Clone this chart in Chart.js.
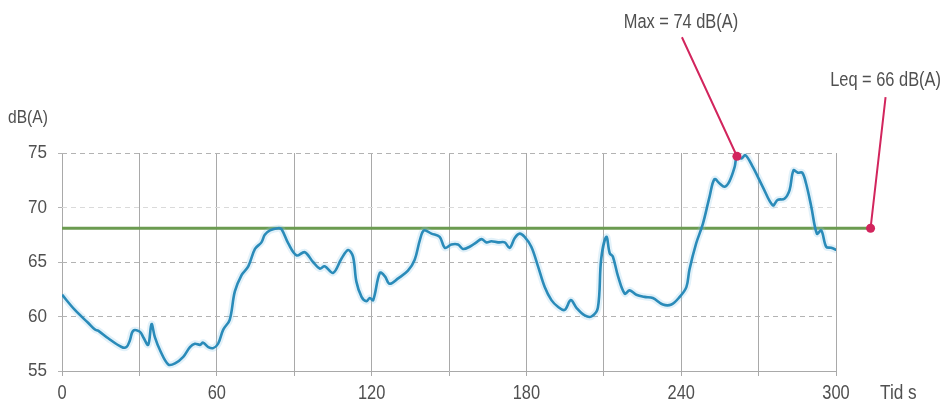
<!DOCTYPE html>
<html>
<head>
<meta charset="utf-8">
<script src="https://cdn.jsdelivr.net/npm/chart.js@4/dist/chart.umd.min.js"></script>
<style>
  html, body { margin: 0; padding: 0; background: #fff; }
  #wrap { width: 946px; height: 406px; position: relative; }
</style>
</head>
<body>
<div id="wrap"><canvas id="chart"></canvas></div>
<script>
// time in seconds, level in dB(A)
const times = [
  0, 5, 10.2, 12.8, 14, 17.9, 23.1, 25, 26.3, 27.6, 30.2, 31.5, 33.4, 34.7, 36, 38,
  41.2, 43.8, 47, 49.6, 51.5, 53.5, 54.7, 56.7, 58.6, 60.5, 62.5, 65, 67, 69.6, 72.2,
  74.8, 77.3, 78.6, 80.6, 83.8, 85.1, 87.7, 90.9, 94.1, 97.3, 99.9, 101.8, 105.1, 108.3,
  110.9, 112.8, 114.1, 116.1, 118, 119.3, 120.6, 123.2, 125.1, 127, 130.3, 134.1, 136.7,
  138.7, 140.3, 143.2, 146.4, 148.4, 150.9, 153.5, 155.4, 158, 160.6, 162.6, 164.5, 166.4,
  169, 171.6, 173.5, 175.5, 177.4, 179.3, 181.9, 184.5, 187.1, 189.7, 192.2, 194.8, 197.2,
  199.4, 202.6, 205.2, 207.7, 209, 211, 212.3, 213.5, 215.5, 218.1, 220, 222.6, 225.8,
  229, 232.9, 236.2, 239.4, 242, 243.2, 245.8, 248.4, 251, 252.9, 254.9, 256.8, 258.7,
  260.7, 261.6, 263.3, 264.9, 267.8, 271.6, 275.5, 277.4, 280, 282, 283.5, 285.2, 286.9,
  288.4, 290.4, 292.6, 294.3, 296.2, 298.1, 300.3
]
const levels = [
  62.0, 60.6, 59.4, 58.8, 58.7, 58.0, 57.2, 57.2, 57.8, 58.7, 58.6, 58.1, 57.4, 59.3, 58.1, 56.9,
  55.6, 55.7, 56.3, 57.2, 57.5, 57.4, 57.6, 57.2, 57.1, 57.5, 58.8, 59.7, 62.3, 63.8, 64.6,
  66.2, 66.8, 67.5, 67.9, 68.1, 68.0, 66.7, 65.6, 65.9, 65.0, 64.4, 64.6, 64.0, 65.3,
  66.1, 65.5, 63.2, 61.8, 61.4, 61.7, 61.5, 64.0, 63.7, 63.0, 63.5, 64.2, 65.2,
  67.0, 67.9, 67.6, 67.3, 66.3, 66.6, 66.6, 66.2, 66.4, 66.8, 67.1, 66.8, 66.9,
  66.8, 66.8, 66.3, 67.2, 67.6, 67.3, 66.4, 64.6, 62.7, 61.5, 60.9, 60.6, 61.5,
  60.8, 60.1, 60.0, 60.8, 65.3, 67.3, 65.8, 65.5, 63.7, 62.1, 62.4, 62.0, 61.8,
  61.7, 61.1, 61.1, 61.8, 62.7, 64.3, 66.7, 68.5, 71.0, 72.6, 72.2, 71.9, 72.4,
  73.7, 74.7, 74.5, 74.8, 73.7, 71.9, 70.2, 70.7, 70.8, 71.6, 73.4, 73.2, 73.2,
  72.2, 70.1, 67.6, 67.9, 66.4, 66.3, 66.1
]
const yTicks = [55, 60, 65, 70, 75]
const xLabels = [0, 60, 120, 180, 240, 300]
const leqLevel = 68.1
const leqEnd = 313.4
const maxMark = { x: 261.6, y: 74.7 }
const maxText = 'Max = 74 dB(A)'
const leqText = 'Leq = 66 dB(A)'
const yUnit = 'dB(A)'
const xUnit = 'Tid s'

const textFont = "'Liberation Sans', Arial, sans-serif"
const textColor = '#505050'
const pink = '#d2255d'

const points = times.map((t, i) => ({ x: t, y: levels[i] }))

// the reference uses a condensed face, so squeeze the text a little
function narrowText (ctx, text, x, y, size, align, squeeze = 0.82) {
  ctx.save()
  ctx.translate(x, y)
  ctx.scale(squeeze, 1)
  ctx.font = size + 'px ' + textFont
  ctx.textAlign = align
  ctx.textBaseline = 'middle'
  ctx.fillText(text, 0, 0)
  ctx.restore()
}

const extras = {
  id: 'extras',
  beforeDatasetsDraw (chart) {
    const { ctx, scales: { x, y } } = chart
    ctx.save()
    ctx.strokeStyle = '#6b9b50'
    ctx.lineWidth = 3
    ctx.beginPath()
    ctx.moveTo(x.getPixelForValue(0), y.getPixelForValue(leqLevel))
    ctx.lineTo(x.getPixelForValue(leqEnd), y.getPixelForValue(leqLevel))
    ctx.stroke()
    ctx.restore()
  },
  afterDatasetsDraw (chart) {
    const { ctx, scales: { x, y } } = chart
    const mx = x.getPixelForValue(maxMark.x)
    const my = y.getPixelForValue(maxMark.y)
    const lx = x.getPixelForValue(leqEnd)
    const ly = y.getPixelForValue(leqLevel)
    ctx.save()
    ctx.strokeStyle = pink
    ctx.fillStyle = pink
    ctx.lineWidth = 2
    ctx.beginPath()
    ctx.moveTo(mx, my)
    ctx.lineTo(mx - 55, my - 119)
    ctx.moveTo(lx, ly)
    ctx.lineTo(lx + 15, ly - 131)
    ctx.stroke()
    for (const [px, py] of [[mx, my], [lx, ly]]) {
      ctx.beginPath()
      ctx.arc(px, py, 4.5, 0, Math.PI * 2)
      ctx.fill()
    }
    ctx.fillStyle = textColor
    narrowText(ctx, maxText, mx - 56, my - 134, 20, 'center')
    narrowText(ctx, leqText, lx + 15, ly - 148, 20, 'center')
    narrowText(ctx, yUnit, 8, y.getPixelForValue(75) - 35, 19, 'left')
    narrowText(ctx, xUnit, x.getPixelForValue(300) + 44, y.bottom + 22, 21, 'left')
    // tick labels
    for (const v of yTicks) {
      narrowText(ctx, String(v), x.left - 15, y.getPixelForValue(v), 19, 'right', 0.9)
    }
    for (const v of xLabels) {
      narrowText(ctx, String(v), x.getPixelForValue(v), y.bottom + 22, 20, 'center', 0.82)
    }
    ctx.restore()
  }
}

new Chart(document.getElementById('chart'), {
  type: 'line',
  data: {
    datasets: [
      {
        data: points,
        borderColor: '#2a8bb9',
        borderWidth: 2.6,
        pointRadius: 0,
        tension: 0.35
      },
      {
        // soft halo round the trace
        data: points,
        borderColor: 'rgba(140, 200, 232, 0.25)',
        borderWidth: 7,
        pointRadius: 0,
        tension: 0.35
      }
    ]
  },
  options: {
    responsive: true,
    maintainAspectRatio: false,
    animation: false,
    layout: { padding: { top: 153, right: 110, left: 0, bottom: 0 } },
    plugins: { legend: { display: false }, tooltip: { enabled: false } },
    scales: {
      x: {
        type: 'linear',
        min: 0,
        max: 300,
        afterFit: (s) => { s.height = 35 },
        ticks: { stepSize: 30, autoSkip: false, display: false },
        grid: { color: '#a9a9a9', lineWidth: 1, tickLength: 5 },
        border: { display: true, color: '#a9a9a9', width: 1 }
      },
      y: {
        min: 55,
        max: 75,
        afterFit: (s) => { s.width = 62 },
        afterBuildTicks: (s) => { s.ticks = yTicks.map((v) => ({ value: v })) },
        ticks: { display: false },
        grid: {
          color: (c) => (c.tick.value === 55 ? 'rgba(0,0,0,0)' : c.tick.value === 70 ? '#dadada' : '#b3b3b3'),
          tickColor: '#b3b3b3',
          lineWidth: 1,
          tickLength: 4
        },
        border: { display: false, dash: [5, 4] }
      }
    }
  },
  plugins: [extras]
})
</script>
</body>
</html>
